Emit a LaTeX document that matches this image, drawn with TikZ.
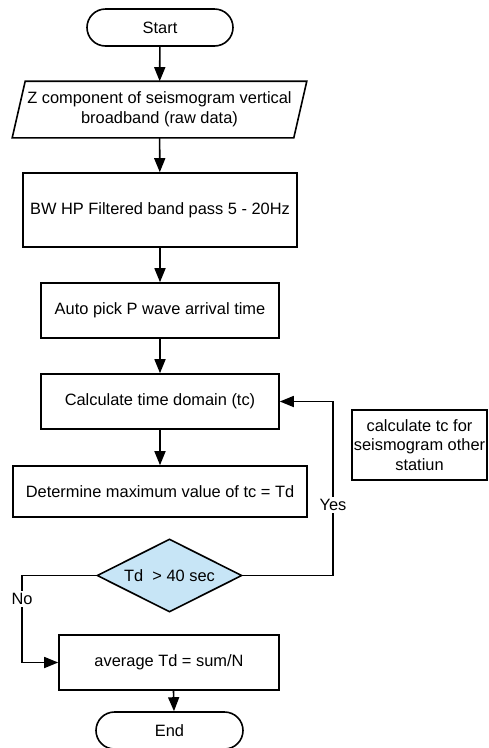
\documentclass[tikz,border=0pt]{standalone}
\usepackage{fontspec}
\setmainfont{Liberation Sans}
\usetikzlibrary{arrows.meta,shapes.geometric}
\definecolor{decblue}{RGB}{199,229,246}
\begin{document}
\begin{tikzpicture}[x=1pt,y=-1pt,
  every node/.style={font=\fontsize{16.4}{19.5}\selectfont, inner sep=0pt, line width=1.6pt},
  box/.style={draw, rectangle, align=center},
  term/.style={draw, rectangle, rounded corners=18.5pt, minimum width=146pt, minimum height=37pt},
  arr/.style={line width=1.6pt, -{Triangle[length=14pt,width=11pt]}},
  lbl/.style={fill=white, inner sep=2pt}]
\useasboundingbox (0,0) rectangle (489,748);

\node[term] (start) at (160,27.5) {Start};
\node[rectangle, minimum width=280pt, minimum height=55pt, align=center] (para) at (159.5,109.5)
  {Z component of seismogram vertical\\broadband (raw data)};
\draw[line width=1.6pt, line join=miter] ([xshift=6.5pt]para.north west) -- ([xshift=6.5pt]para.north east)
  -- ([xshift=-6.5pt]para.south east) -- ([xshift=-6.5pt]para.south west) -- cycle;
\node[box, minimum width=274pt, minimum height=74pt] (bw) at (160,210) {BW HP Filtered band pass 5 - 20Hz};
\node[box, minimum width=238pt, minimum height=55pt] (auto) at (160,310.5) {Auto pick P wave arrival time};
\node[box, minimum width=238pt, minimum height=55pt] (calc) at (160,401.5) {Calculate time domain (tc)};
\node[box, minimum width=135pt, minimum height=70pt] (other) at (419.5,445) {calculate tc for\\seismogram other\\statiun};
\node[box, minimum width=294pt, minimum height=51pt] (det) at (160,491.5) {Determine maximum value of tc = Td};
\node[draw, diamond, fill=decblue, aspect=2, minimum width=145pt, minimum height=73pt] (dec) at (169.5,575.5) {Td\ \ > 40 sec};
\node[box, minimum width=220pt, minimum height=55pt] (avg) at (169,662.5) {average Td = sum/N};
\node[term, minimum width=147pt] (end) at (169.5,730.5) {End};

\coordinate (loopx) at (333,0);
\coordinate (nox) at (22,0);

\draw[arr] (start) -- (para);
\draw[arr] (para) -- (bw);
\draw[arr] (bw) -- (auto);
\draw[arr] (auto) -- (calc);
\draw[arr] (calc) -- (det);
\draw[arr] (dec.east) -- (dec.east -| loopx) -- (calc.east -| loopx) -- (calc.east);
\draw[arr] (dec.west) -- (dec.west -| nox) -- (avg.west -| nox) -- (avg.west);
\draw[arr] ([xshift=4.5pt]avg.south) -- ([xshift=4.5pt]end.north);

\node[lbl] (yes) at (333,505) {Yes};
\node[lbl] (no) at (22,599) {No};
\end{tikzpicture}
\end{document}
